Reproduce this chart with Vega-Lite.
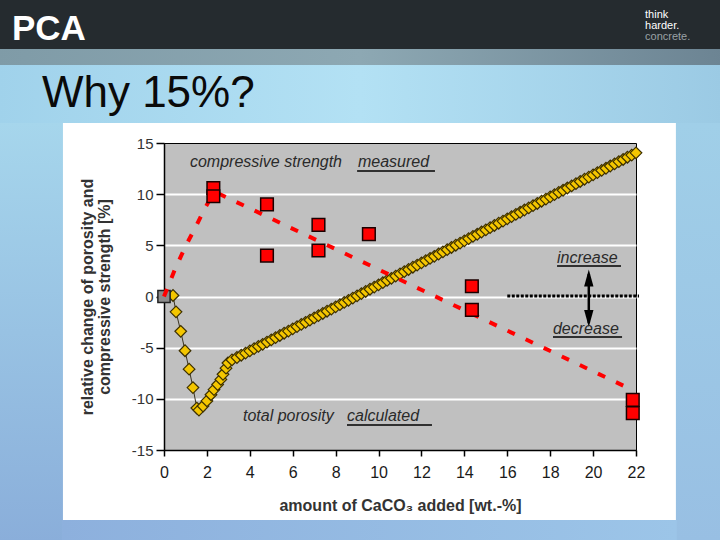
{
  "$schema": "https://vega.github.io/schema/vega-lite/v6.json",
  "width": 472,
  "height": 307,
  "autosize": {"type": "none"},
  "padding": {"left": 164, "top": 143, "right": 84, "bottom": 90},
  "background": "#ffffff",
  "config": {
    "view": {"fill": "#c0c0c0", "stroke": "#000000", "strokeWidth": 1},
    "font": "Liberation Sans"
  },
  "data": {"values": [{}]},
  "datasets": {
    "strength": [
      {"x": 2.3, "y": 10.6}, {"x": 2.3, "y": 9.8},
      {"x": 4.8, "y": 9.0}, {"x": 4.8, "y": 4.0},
      {"x": 7.2, "y": 7.0}, {"x": 7.2, "y": 4.5},
      {"x": 9.55, "y": 6.1},
      {"x": 14.35, "y": 1.0}, {"x": 14.35, "y": -1.3},
      {"x": 21.85, "y": -10.1}, {"x": 21.85, "y": -11.4}
    ],
    "reference": [{"x": 0, "y": 0}],
    "trend": [
      {"x": 0, "y": 0}, {"x": 0.5, "y": 2.6}, {"x": 1.0, "y": 4.9}, {"x": 1.5, "y": 6.9},
      {"x": 1.9, "y": 8.6}, {"x": 2.2, "y": 9.7}, {"x": 2.4, "y": 10.2}, {"x": 21.9, "y": -9.2}
    ],
    "porosity": [
      {"x": 0, "y": 0}, {"x": 0.42, "y": 0.1}, {"x": 0.56, "y": -1.5}, {"x": 0.78, "y": -3.4},
      {"x": 0.98, "y": -5.3}, {"x": 1.17, "y": -7.1}, {"x": 1.35, "y": -8.9}, {"x": 1.53, "y": -10.9},
      {"x": 1.63, "y": -11.1}, {"x": 1.82, "y": -10.7}, {"x": 2.0, "y": -10.2}, {"x": 2.19, "y": -9.6},
      {"x": 2.33, "y": -9.1}, {"x": 2.5, "y": -8.6}, {"x": 2.65, "y": -8.1}, {"x": 2.75, "y": -7.6},
      {"x": 2.89, "y": -7.0}, {"x": 2.98, "y": -6.5}, {"x": 3.17, "y": -6.2},
      {"x": 3.4, "y": -5.96}, {"x": 3.6, "y": -5.74}, {"x": 3.8, "y": -5.53}, {"x": 4.0, "y": -5.31},
      {"x": 4.2, "y": -5.1}, {"x": 4.4, "y": -4.88}, {"x": 4.6, "y": -4.67}, {"x": 4.8, "y": -4.45},
      {"x": 5.0, "y": -4.24}, {"x": 5.2, "y": -4.02}, {"x": 5.4, "y": -3.81}, {"x": 5.6, "y": -3.59},
      {"x": 5.8, "y": -3.38}, {"x": 6.0, "y": -3.16}, {"x": 6.2, "y": -2.95}, {"x": 6.4, "y": -2.73},
      {"x": 6.6, "y": -2.52}, {"x": 6.8, "y": -2.3}, {"x": 7.0, "y": -2.09}, {"x": 7.2, "y": -1.87},
      {"x": 7.4, "y": -1.66}, {"x": 7.6, "y": -1.44}, {"x": 7.8, "y": -1.23}, {"x": 8.0, "y": -1.01},
      {"x": 8.2, "y": -0.8}, {"x": 8.4, "y": -0.58}, {"x": 8.6, "y": -0.37}, {"x": 8.8, "y": -0.15},
      {"x": 9.0, "y": 0.06}, {"x": 9.2, "y": 0.28}, {"x": 9.4, "y": 0.49}, {"x": 9.6, "y": 0.71},
      {"x": 9.8, "y": 0.92}, {"x": 10.0, "y": 1.14}, {"x": 10.2, "y": 1.35}, {"x": 10.4, "y": 1.57},
      {"x": 10.6, "y": 1.78}, {"x": 10.8, "y": 2.0}, {"x": 11.0, "y": 2.21}, {"x": 11.2, "y": 2.43},
      {"x": 11.4, "y": 2.64}, {"x": 11.6, "y": 2.86}, {"x": 11.8, "y": 3.07}, {"x": 12.0, "y": 3.29},
      {"x": 12.2, "y": 3.5}, {"x": 12.4, "y": 3.72}, {"x": 12.6, "y": 3.93}, {"x": 12.8, "y": 4.15},
      {"x": 13.0, "y": 4.36}, {"x": 13.2, "y": 4.58}, {"x": 13.4, "y": 4.79}, {"x": 13.6, "y": 5.01},
      {"x": 13.8, "y": 5.22}, {"x": 14.0, "y": 5.44}, {"x": 14.2, "y": 5.65}, {"x": 14.4, "y": 5.87},
      {"x": 14.6, "y": 6.08}, {"x": 14.8, "y": 6.3}, {"x": 15.0, "y": 6.51}, {"x": 15.2, "y": 6.73},
      {"x": 15.4, "y": 6.94}, {"x": 15.6, "y": 7.16}, {"x": 15.8, "y": 7.37}, {"x": 16.0, "y": 7.59},
      {"x": 16.2, "y": 7.8}, {"x": 16.4, "y": 8.02}, {"x": 16.6, "y": 8.23}, {"x": 16.8, "y": 8.45},
      {"x": 17.0, "y": 8.66}, {"x": 17.2, "y": 8.88}, {"x": 17.4, "y": 9.09}, {"x": 17.6, "y": 9.31},
      {"x": 17.8, "y": 9.52}, {"x": 18.0, "y": 9.74}, {"x": 18.2, "y": 9.95}, {"x": 18.4, "y": 10.17},
      {"x": 18.6, "y": 10.38}, {"x": 18.8, "y": 10.6}, {"x": 19.0, "y": 10.81}, {"x": 19.2, "y": 11.03},
      {"x": 19.4, "y": 11.24}, {"x": 19.6, "y": 11.46}, {"x": 19.8, "y": 11.67}, {"x": 20.0, "y": 11.89},
      {"x": 20.2, "y": 12.1}, {"x": 20.4, "y": 12.32}, {"x": 20.6, "y": 12.53}, {"x": 20.8, "y": 12.75},
      {"x": 21.0, "y": 12.96}, {"x": 21.2, "y": 13.18}, {"x": 21.4, "y": 13.39}, {"x": 21.6, "y": 13.61},
      {"x": 21.8, "y": 13.82}, {"x": 22.0, "y": 14.04}
    ]
  },
  "layer": [
    {
      "mark": {"type": "rect", "clip": false, "color": {"gradient": "linear", "x1": 0, "y1": 0, "x2": 1, "y2": 0, "stops": [{"offset": 0, "color": "#a0d2eb"}, {"offset": 0.5, "color": "#b3e1f4"}, {"offset": 1, "color": "#9bcae4"}]}},
      "encoding": {"x": {"datum": -7.74}, "x2": {"datum": 26.01}, "y": {"datum": 24.19}, "y2": {"datum": 16.95}}
    },
    {
      "mark": {"type": "rect", "clip": false, "color": {"gradient": "linear", "x1": 0, "y1": 0, "x2": 0, "y2": 1, "stops": [{"offset": 0, "color": "#a6d6ec"}, {"offset": 1, "color": "#8aaeda"}]}},
      "encoding": {"x": {"datum": -7.74}, "x2": {"datum": -4.71}, "y": {"datum": 16.96}, "y2": {"datum": -24.0}}
    },
    {
      "mark": {"type": "rect", "clip": false, "color": {"gradient": "linear", "x1": 0, "y1": 0, "x2": 0, "y2": 1, "stops": [{"offset": 0, "color": "#a0cfe8"}, {"offset": 1, "color": "#98bfe3"}]}},
      "encoding": {"x": {"datum": 23.86}, "x2": {"datum": 26.01}, "y": {"datum": 16.96}, "y2": {"datum": -24.0}}
    },
    {
      "mark": {"type": "rect", "clip": false, "color": {"gradient": "linear", "x1": 0, "y1": 0, "x2": 1, "y2": 0, "stops": [{"offset": 0, "color": "#8db0dd"}, {"offset": 1, "color": "#9cc5e8"}]}},
      "encoding": {"x": {"datum": -4.75}, "x2": {"datum": 23.9}, "y": {"datum": -21.84}, "y2": {"datum": -24.0}}
    },
    {
      "mark": {"type": "rect", "clip": false, "color": {"gradient": "linear", "x1": 0, "y1": 0, "x2": 1, "y2": 0, "stops": [{"offset": 0, "color": "#7f9ba7"}, {"offset": 0.5, "color": "#8da8b3"}, {"offset": 1, "color": "#6c8493"}]}},
      "encoding": {"x": {"datum": -7.74}, "x2": {"datum": 26.01}, "y": {"datum": 24.25}, "y2": {"datum": 22.62}}
    },
    {
      "mark": {"type": "rect", "clip": false, "color": "#252b2f"},
      "encoding": {"x": {"datum": -7.74}, "x2": {"datum": 26.01}, "y": {"datum": 29.17}, "y2": {"datum": 24.19}}
    },
    {
      "mark": {"type": "text", "text": "PCA", "align": "left", "baseline": "alphabetic", "fontSize": 35, "fontWeight": "bold", "color": "#ffffff"},
      "encoding": {"x": {"datum": -7.09}, "y": {"datum": 25.07}}
    },
    {
      "mark": {"type": "text", "text": "think", "align": "left", "baseline": "alphabetic", "fontSize": 11, "color": "#ffffff"},
      "encoding": {"x": {"datum": 22.42}, "y": {"datum": 27.22}}
    },
    {
      "mark": {"type": "text", "text": "harder.", "align": "left", "baseline": "alphabetic", "fontSize": 11, "color": "#ffffff"},
      "encoding": {"x": {"datum": 22.42}, "y": {"datum": 26.14}}
    },
    {
      "mark": {"type": "text", "text": "concrete.", "align": "left", "baseline": "alphabetic", "fontSize": 11, "color": "#9aa1a6"},
      "encoding": {"x": {"datum": 22.42}, "y": {"datum": 25.07}}
    },
    {
      "mark": {"type": "text", "text": "Why 15%?", "align": "left", "baseline": "alphabetic", "fontSize": 44, "color": "#0a0a0a"},
      "encoding": {"x": {"datum": -5.69}, "y": {"datum": 18.52}}
    },
    {
      "data": {"name": "porosity"},
      "mark": {"type": "line", "color": "#3a3320", "strokeWidth": 1},
      "encoding": {
        "x": {
          "field": "x", "type": "quantitative",
          "scale": {"domain": [0, 22], "nice": false, "zero": false},
          "axis": {
            "values": [0, 2, 4, 6, 8, 10, 12, 14, 16, 18, 20, 22],
            "title": "amount of CaCO₃ added [wt.-%]",
            "grid": false, "labelFlush": false,
            "labelFontSize": 16, "labelColor": "#1a1a1a", "labelPadding": 8,
            "tickSize": 6, "tickColor": "#000000", "tickWidth": 1.5,
            "domainColor": "#000000", "domainWidth": 1.5,
            "titleFontSize": 16, "titleFontWeight": "bold", "titleColor": "#333333", "titlePadding": 17
          }
        },
        "y": {
          "field": "y", "type": "quantitative",
          "scale": {"domain": [-15, 15], "nice": false, "zero": false},
          "axis": {
            "values": [-15, -10, -5, 0, 5, 10, 15],
            "labelExpr": "'' + datum.value",
            "labelFlush": false,
            "title": ["relative change of  porosity and", "compressive strength [%]"],
            "grid": true, "gridColor": "#ffffff", "gridWidth": 2,
            "gridOpacity": {"condition": {"test": "abs(datum.value) == 15", "value": 0}, "value": 1},
            "labelFontSize": 15, "labelColor": "#333333", "labelPadding": 3,
            "tickSize": 8, "tickColor": "#000000", "tickWidth": 1.5,
            "domainColor": "#000000", "domainWidth": 1.5,
            "titleFontSize": 16, "titleFontWeight": "bold", "titleColor": "#333333",
            "titleAngle": -90, "titleAlign": "center", "titleBaseline": "middle",
            "titleX": -76.5, "titleY": 153.5, "titleLineHeight": 17
          }
        }
      }
    },
    {
      "data": {"name": "porosity"},
      "mark": {"type": "point", "shape": "diamond", "filled": true, "size": 135, "color": "#f4c600", "stroke": "#3d3000", "strokeWidth": 1.2, "opacity": 1},
      "encoding": {"x": {"field": "x", "type": "quantitative"}, "y": {"field": "y", "type": "quantitative"}}
    },
    {
      "data": {"name": "reference"},
      "mark": {"type": "point", "shape": "square", "filled": true, "size": 150, "color": "#8c8c8c", "stroke": "#222222", "strokeWidth": 1.5, "opacity": 1},
      "encoding": {"x": {"field": "x", "type": "quantitative"}, "y": {"field": "y", "type": "quantitative"}}
    },
    {
      "data": {"name": "trend"},
      "mark": {"type": "line", "color": "#ff0000", "strokeWidth": 4, "strokeDash": [8, 12]},
      "encoding": {"x": {"field": "x", "type": "quantitative"}, "y": {"field": "y", "type": "quantitative"}}
    },
    {
      "data": {"name": "strength"},
      "mark": {"type": "point", "shape": "square", "filled": true, "size": 160, "color": "#ff0000", "stroke": "#1a0000", "strokeWidth": 1.5, "opacity": 1},
      "encoding": {"x": {"field": "x", "type": "quantitative"}, "y": {"field": "y", "type": "quantitative"}}
    },
    {
      "mark": {"type": "rule", "color": "#000000", "strokeWidth": 3, "strokeDash": [3, 1.5]},
      "encoding": {"x": {"datum": 16.0}, "x2": {"datum": 22.14}, "y": {"datum": 0.05}}
    },
    {
      "mark": {"type": "rule", "color": "#000000", "strokeWidth": 2.5},
      "encoding": {"x": {"datum": 19.8}, "y": {"datum": 2.2}, "y2": {"datum": -2.6}}
    },
    {
      "mark": {"type": "point", "shape": "M0,-1L0.55,1L-0.55,1Z", "filled": true, "size": 289, "color": "#000000", "opacity": 1},
      "encoding": {"x": {"datum": 19.8}, "y": {"datum": 1.81}}
    },
    {
      "mark": {"type": "point", "shape": "M0,1L0.55,-1L-0.55,-1Z", "filled": true, "size": 289, "color": "#000000", "opacity": 1},
      "encoding": {"x": {"datum": 19.8}, "y": {"datum": -2.15}}
    },
    {
      "mark": {"type": "text", "text": "compressive strength", "align": "left", "baseline": "alphabetic", "fontSize": 16, "fontStyle": "italic", "color": "#2a2a2a"},
      "encoding": {"x": {"datum": 1.21}, "y": {"datum": 12.66}}
    },
    {
      "mark": {"type": "text", "text": "measured", "align": "left", "baseline": "alphabetic", "fontSize": 16, "fontStyle": "italic", "color": "#2a2a2a"},
      "encoding": {"x": {"datum": 9.04}, "y": {"datum": 12.66}}
    },
    {
      "mark": {"type": "rule", "color": "#000000", "strokeWidth": 1.5},
      "encoding": {"x": {"datum": 9.0}, "x2": {"datum": 12.63}, "y": {"datum": 12.26}}
    },
    {
      "mark": {"type": "text", "text": "total porosity", "align": "left", "baseline": "alphabetic", "fontSize": 16, "fontStyle": "italic", "color": "#2a2a2a"},
      "encoding": {"x": {"datum": 3.68}, "y": {"datum": -12.14}}
    },
    {
      "mark": {"type": "text", "text": "calculated", "align": "left", "baseline": "alphabetic", "fontSize": 16, "fontStyle": "italic", "color": "#2a2a2a"},
      "encoding": {"x": {"datum": 8.53}, "y": {"datum": -12.14}}
    },
    {
      "mark": {"type": "rule", "color": "#000000", "strokeWidth": 1.5},
      "encoding": {"x": {"datum": 8.53}, "x2": {"datum": 12.49}, "y": {"datum": -12.56}}
    },
    {
      "mark": {"type": "text", "text": "increase", "align": "left", "baseline": "alphabetic", "fontSize": 16, "fontStyle": "italic", "color": "#2a2a2a"},
      "encoding": {"x": {"datum": 18.32}, "y": {"datum": 3.27}}
    },
    {
      "mark": {"type": "rule", "color": "#000000", "strokeWidth": 1.5},
      "encoding": {"x": {"datum": 18.32}, "x2": {"datum": 21.3}, "y": {"datum": 2.98}}
    },
    {
      "mark": {"type": "text", "text": "decrease", "align": "left", "baseline": "alphabetic", "fontSize": 16, "fontStyle": "italic", "color": "#2a2a2a"},
      "encoding": {"x": {"datum": 18.13}, "y": {"datum": -3.66}}
    },
    {
      "mark": {"type": "rule", "color": "#000000", "strokeWidth": 1.5},
      "encoding": {"x": {"datum": 18.13}, "x2": {"datum": 21.35}, "y": {"datum": -3.96}}
    }
  ]
}
